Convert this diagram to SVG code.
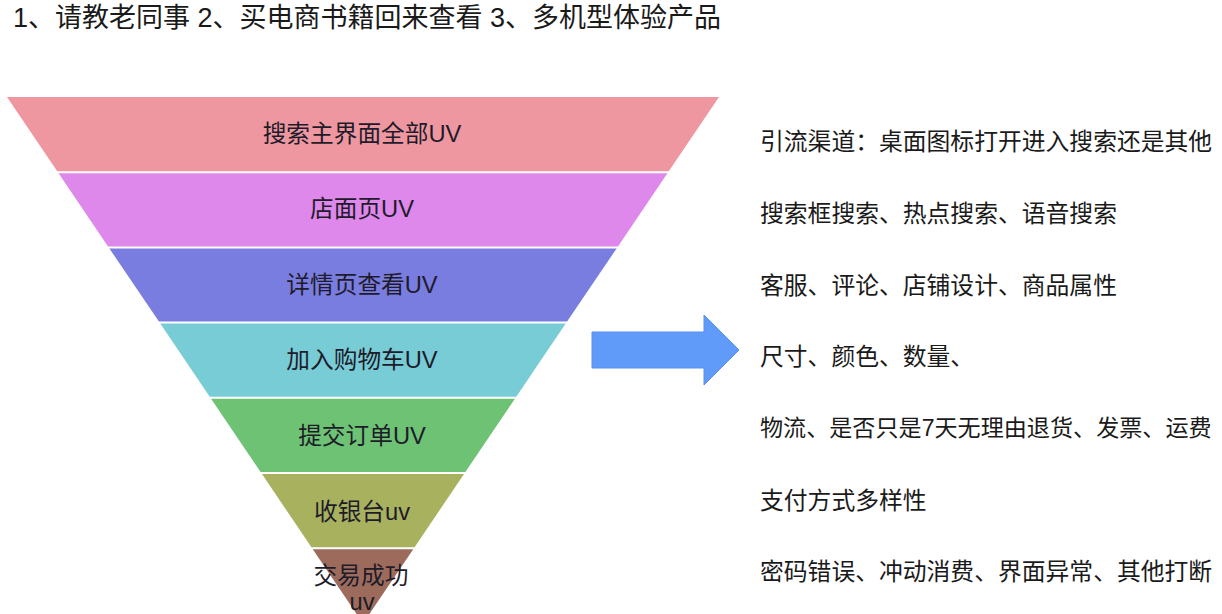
<svg xmlns="http://www.w3.org/2000/svg" width="1222" height="614" viewBox="0 0 1222 614">
<style>
text{font-family:"Liberation Sans","Noto Sans CJK SC",sans-serif;}
.title{font-size:27px;fill:#1a1a1a;}
.lbl{font-size:23.7px;fill:#1e1b2a;text-anchor:middle;dominant-baseline:central;}
.note{font-size:23.8px;fill:#1a1a1a;dominant-baseline:central;}
.sep{stroke:#ffffff;stroke-width:2;}
</style>
<rect x="0" y="0" width="1222" height="614" fill="#ffffff"/>
<text class="title" x="13" y="18" dominant-baseline="central">1、请教老同事 2、买电商书籍回来查看 3、多机型体验产品</text>
<g id="funnel">
<g id="layer1"><polygon points="7,97 719,97 668.1,172.2 57.9,172.2" fill="#EF97A0"/><text class="lbl" x="362" y="134">搜索主界面全部UV</text></g>
<g id="layer2"><polygon points="57.9,172.2 668.1,172.2 617.3,247.4 108.7,247.4" fill="#DD88EA"/><text class="lbl" x="362" y="209">店面页UV</text></g>
<g id="layer3"><polygon points="108.7,247.4 617.3,247.4 566.4,322.6 159.6,322.6" fill="#797DE0"/><text class="lbl" x="362" y="285">详情页查看UV</text></g>
<g id="layer4"><polygon points="159.6,322.6 566.4,322.6 515.6,397.8 210.4,397.8" fill="#77CCD6"/><text class="lbl" x="362" y="360">加入购物车UV</text></g>
<g id="layer5"><polygon points="210.4,397.8 515.6,397.8 464.7,473 261.3,473" fill="#6DC373"/><text class="lbl" x="362" y="436">提交订单UV</text></g>
<g id="layer6"><polygon points="261.3,473 464.7,473 413.9,548.2 312.1,548.2" fill="#A8B25E"/><text class="lbl" x="362" y="512">收银台uv</text></g>
<g id="layer7"><polygon points="312.1,548.2 413.9,548.2 363,623.4" fill="#9C6B5B"/><text class="lbl" x="361" y="576">交易成功</text><text class="lbl" x="362" y="602">uv</text></g>
<g id="separators">
<line class="sep" x1="50" y1="172.2" x2="676" y2="172.2"/>
<line class="sep" x1="100" y1="247.4" x2="626" y2="247.4"/>
<line class="sep" x1="150" y1="322.6" x2="576" y2="322.6"/>
<line class="sep" x1="200" y1="397.8" x2="526" y2="397.8"/>
<line class="sep" x1="250" y1="473" x2="476" y2="473"/>
<line class="sep" x1="300" y1="548.2" x2="426" y2="548.2"/>
</g>
</g>
<g id="connectors">
<polygon id="arrow" points="592,332 704,332 704,315 739,350 704,385 704,368 592,368" fill="#619BF9" stroke="#5A8FE8" stroke-width="1"/>
</g>
<g id="notes">
<text class="note" x="760" y="141">引流渠道：桌面图标打开进入搜索还是其他</text>
<text class="note" x="760" y="213">搜索框搜索、热点搜索、语音搜索</text>
<text class="note" x="760" y="285">客服、评论、店铺设计、商品属性</text>
<text class="note" x="760" y="356">尺寸、颜色、数量、</text>
<text class="note" x="760" y="428" style="font-size:23.1px">物流、是否只是7天无理由退货、发票、运费</text>
<text class="note" x="760" y="500">支付方式多样性</text>
<text class="note" x="760" y="571">密码错误、冲动消费、界面异常、其他打断</text>
</g>
</svg>
